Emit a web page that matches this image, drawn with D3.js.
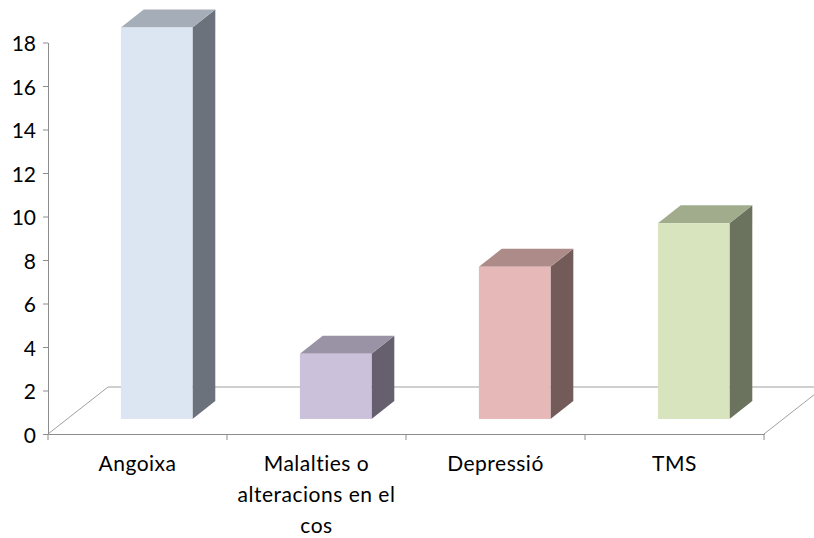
<!DOCTYPE html>
<html>
<head>
<meta charset="utf-8">
<script src="https://cdn.jsdelivr.net/npm/d3@7"></script>
<style>
  html, body { margin: 0; padding: 0; background: #fff; }
  svg { display: block; }
  text { font-family: "Lato", "Noto Sans", sans-serif; fill: #000; }
</style>
</head>
<body>
<svg id="chart" width="814" height="538"></svg>
<script>
// Chart data
const categories = ["Angoixa", "Malalties o alteracions en el cos", "Depressió", "TMS"];
const values = [18, 3, 7, 9];
const yTicks = [0, 2, 4, 6, 8, 10, 12, 14, 16, 18];
const frontColors = ["#dce6f2", "#ccc1da", "#e6b9b8", "#d7e4bd"];
const topColors   = ["#a5aeb8", "#9a93a5", "#ad8b89", "#a1ac8d"];
const sideColors  = ["#6c727b", "#665f6d", "#735b5a", "#6b725d"];

const svg = d3.select("#chart");

// Plot frame (front plane) and oblique depth vector
const plotLeft = 48, plotRight = 764, plotBottom = 434, plotTop = 42.5;
const depth = { dx: 60, dy: -47 };
const barFront = 0.32, barBack = 0.70, barFrac = 0.4;

const x = d3.scaleBand().domain(categories).range([plotLeft, plotRight]).padding(0);
const y = d3.scaleLinear().domain([0, 18]).range([plotBottom, plotTop]);

const axisColor = "#8c8c8c";

// Floor outline
const floor = svg.append("g").attr("fill", "none").attr("stroke", "#a0a0a0").attr("stroke-width", 1);
floor.append("line").attr("x1", plotLeft).attr("y1", plotBottom).attr("x2", plotLeft + depth.dx).attr("y2", plotBottom + depth.dy);
floor.append("line").attr("x1", plotLeft + depth.dx).attr("y1", plotBottom + depth.dy).attr("x2", plotRight + depth.dx).attr("y2", plotBottom + depth.dy);
floor.append("line").attr("x1", plotRight).attr("y1", plotBottom).attr("x2", plotRight + depth.dx).attr("y2", plotBottom + depth.dy);

// 3D bars
const bars = svg.append("g");
categories.forEach((c, i) => {
  const w = x.bandwidth() * barFrac;
  const fx = x(c) + (x.bandwidth() - w) / 2 + depth.dx * barFront;
  const oy = depth.dy * barFront;
  const fy0 = y(0) + oy, fy1 = y(values[i]) + oy;
  const bdx = depth.dx * (barBack - barFront), bdy = depth.dy * (barBack - barFront);
  const g = bars.append("g");
  // side face
  g.append("path")
    .attr("d", `M${fx + w},${fy1} L${fx + w + bdx},${fy1 + bdy} L${fx + w + bdx},${fy0 + bdy} L${fx + w},${fy0} Z`)
    .attr("fill", sideColors[i]);
  // top face
  g.append("path")
    .attr("d", `M${fx},${fy1} L${fx + bdx},${fy1 + bdy} L${fx + w + bdx},${fy1 + bdy} L${fx + w},${fy1} Z`)
    .attr("fill", topColors[i]);
  // front face
  g.append("rect")
    .attr("x", fx).attr("y", fy1).attr("width", w).attr("height", fy0 - fy1)
    .attr("fill", frontColors[i]);
});

// Y axis
const yAxis = svg.append("g")
  .attr("transform", `translate(${plotLeft},0)`)
  .call(d3.axisLeft(y).tickValues(yTicks).tickSize(5).tickPadding(7).tickSizeOuter(0));
yAxis.select(".domain").attr("stroke", axisColor);
yAxis.selectAll(".tick line").attr("stroke", axisColor);
yAxis.selectAll(".tick text").attr("font-size", 21).attr("dy", "0.4em")
  .style("font-family", "Lato, 'Noto Sans', sans-serif").attr("fill", "#000");

// X axis
const xAxis = svg.append("g")
  .attr("transform", `translate(0,${plotBottom})`)
  .call(d3.axisBottom(x).tickSize(0).tickFormat(""));
xAxis.select(".domain").attr("stroke", axisColor);
xAxis.selectAll(".tick").remove();
const bounds = categories.map(c => x(c)).concat([plotRight]);
xAxis.selectAll(".sep").data(bounds).enter().append("line")
  .attr("x1", d => d).attr("x2", d => d).attr("y1", 0).attr("y2", 6)
  .attr("stroke", axisColor);

// Category labels, wrapped within each band
const labels = svg.append("g");
categories.forEach(c => {
  const cx = x(c) + x.bandwidth() / 2;
  const t = labels.append("text")
    .attr("x", cx)
    .attr("y", 471)
    .attr("text-anchor", "middle")
    .attr("font-size", 21)
    .attr("letter-spacing", 0.5);
  const words = c.split(" ");
  const maxW = 170;
  let line = [];
  let ts = t.append("tspan").attr("x", cx).attr("dy", 0);
  words.forEach(wd => {
    line.push(wd);
    ts.text(line.join(" "));
    if (ts.node().getComputedTextLength() > maxW && line.length > 1) {
      line.pop();
      ts.text(line.join(" "));
      line = [wd];
      ts = t.append("tspan").attr("x", cx).attr("dy", 31).text(wd);
    }
  });
});
</script>
</body>
</html>
